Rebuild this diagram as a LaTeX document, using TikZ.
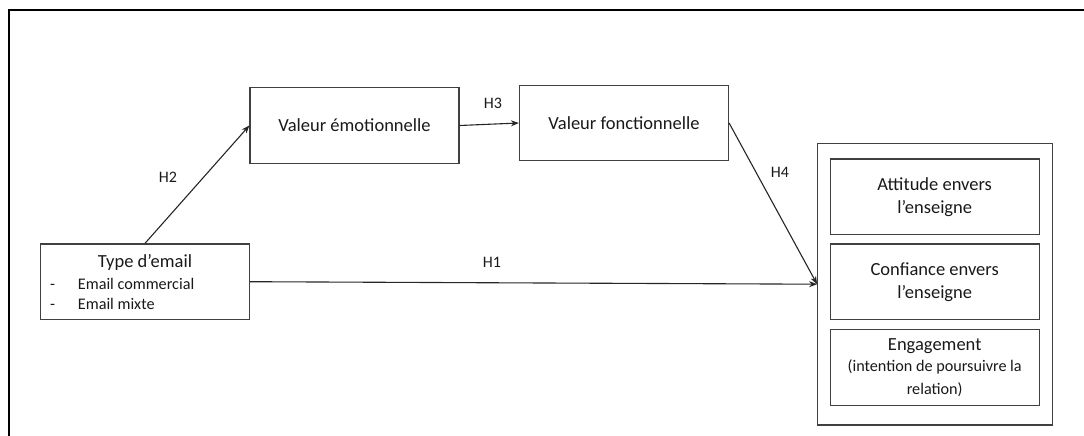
\documentclass[tikz,border=0pt]{standalone}
\usepackage{fontspec}
\setmainfont{Carlito}
\usetikzlibrary{arrows.meta}
\begin{document}
\begin{tikzpicture}[x=1pt,y=-1pt,
  box/.style={draw=black!75,line width=1.2pt,minimum width=209pt,minimum height=75.5pt,inner sep=0pt,align=center,font=\fontsize{18.5}{23}\selectfont,text=black!90},
  lab/.style={font=\fontsize{16}{19}\selectfont,inner sep=0pt,text=black!90},
  small/.style={font=\fontsize{16.2}{19}\selectfont,inner sep=0pt,text=black!90},
  arr/.style={draw=black!85,line width=1.1pt,-{Stealth[length=8pt,width=6pt]}}]
\useasboundingbox (0,0) rectangle (1084,436);
% frame
\draw[line width=2pt] (8.5,436) -- (8.5,10) -- (1084,10);
% nodes
\node[box] (emo) at (354.5,125.5) {Valeur émotionnelle};
\node[box] (fonc) at (624,123) {Valeur fonctionnelle};
\node[box] (type) at (145,281.7) {};
\node[font=\fontsize{18.5}{23}\selectfont,inner sep=0pt,text=black!90] (typeh) at (145,262) {Type d’email};
\node[small,anchor=base west] (d1) at (50,289.8) {-};
\node[small,anchor=base west] (t1) at (77.7,289.8) {Email commercial};
\node[small,anchor=base west] (d2) at (50,309.3) {-};
\node[small,anchor=base west] (t2) at (77.7,309.3) {Email mixte};
\node[draw=black!75,line width=1.2pt,minimum width=234.6pt,minimum height=281.7pt,inner sep=0pt] (outer) at (935,284.2) {};
\node[box] (att) at (934.7,196.7) {Attitude envers\\l’enseigne};
\node[box] (conf) at (934.7,281.7) {Confiance envers\\l’enseigne};
\node[box,minimum height=76pt] (eng) at (934.7,367.3) {Engagement\\[-2pt]\fontsize{16.2}{19.5}\selectfont (intention de poursuivre la\\\fontsize{16.2}{19.5}\selectfont relation)};
% arrows
\draw[arr] (type.north) -- (emo.west);
\draw[arr] (emo.east) -- (fonc.west);
\draw[arr] (fonc.east) -- (outer.west);
\draw[arr] (type.east) -- (outer.west);
% labels
\node[lab] (h2) at (168,177) {H2};
\node[lab] (h3) at (493,103) {H3};
\node[lab] (h4) at (780,172) {H4};
\node[lab] (h1) at (492,262) {H1};
\end{tikzpicture}
\end{document}
